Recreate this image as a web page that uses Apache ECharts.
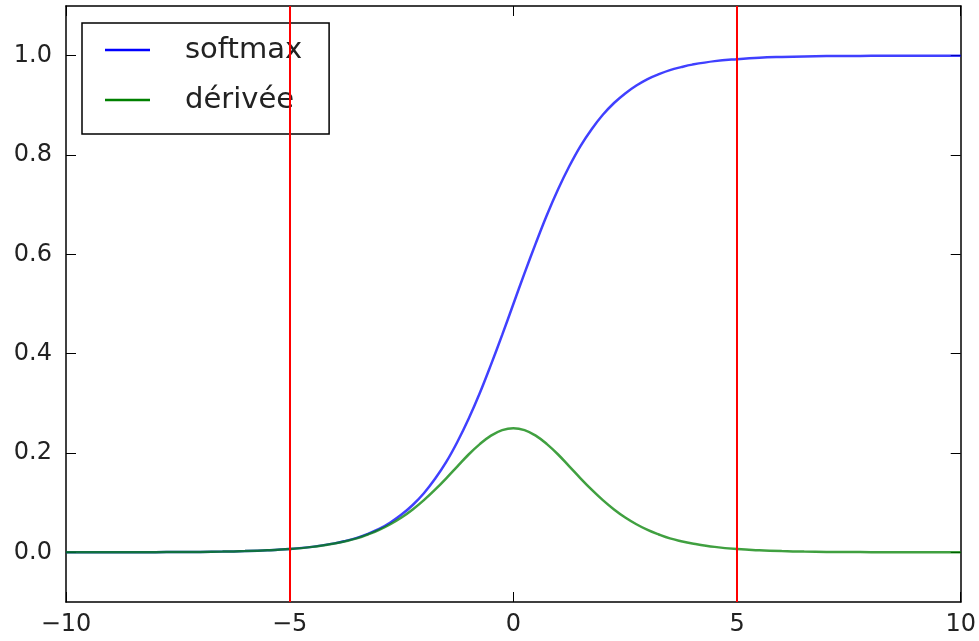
<!DOCTYPE html>
<html>
<head>
<meta charset="utf-8">
<script src="https://cdn.jsdelivr.net/npm/echarts@6/dist/echarts.min.js"></script>
<style>html,body{margin:0;padding:0;background:#fff;}#c{width:979px;height:641px;}</style>
</head>
<body>
<div id="c"></div>
<script>
const xValues = [-10,-9.5,-9,-8.5,-8,-7.5,-7,-6.5,-6,-5.5,-5,-4.5,-4,-3.75,-3.5,-3.25,-3,-2.75,-2.5,-2.25,-2,-1.75,-1.5,-1.25,-1,-0.75,-0.5,-0.25,0,0.25,0.5,0.75,1,1.25,1.5,1.75,2,2.25,2.5,2.75,3,3.25,3.5,3.75,4,4.5,5,5.5,6,6.5,7,7.5,8,8.5,9,9.5,10];
const softmaxValues = [0.0000,0.0001,0.0001,0.0002,0.0003,0.0006,0.0009,0.0015,0.0025,0.0041,0.0067,0.011,0.018,0.023,0.029,0.0373,0.047,0.0601,0.076,0.0953,0.119,0.148,0.182,0.2227,0.269,0.3208,0.378,0.4378,0.500,0.5622,0.622,0.6792,0.731,0.7773,0.818,0.852,0.881,0.9047,0.924,0.9399,0.953,0.9627,0.971,0.977,0.982,0.989,0.993,0.996,0.9975,0.9985,0.9991,0.9994,0.9997,0.9998,0.9999,0.9999,1.0000];
const deriveeValues = [0.0000,0.0001,0.0001,0.0002,0.0003,0.0006,0.0009,0.0015,0.0025,0.0041,0.0066,0.011,0.018,0.0225,0.028,0.0359,0.045,0.0565,0.070,0.0862,0.105,0.1261,0.149,0.1731,0.197,0.2179,0.235,0.2461,0.250,0.2461,0.235,0.2179,0.197,0.1731,0.149,0.1261,0.105,0.0862,0.070,0.0565,0.045,0.0359,0.028,0.0225,0.018,0.011,0.0066,0.0041,0.0025,0.0015,0.0009,0.0006,0.0003,0.0002,0.0001,0.0001,0.0000];
const redLines = [-5, 5];
const yTicks = [0, 0.2, 0.4, 0.6, 0.8, 1.0];
const seriesNames = ['softmax', 'dérivée'];

const font = 'DejaVu Sans';
const pairs = v => xValues.map((x, i) => [x, v[i]]);
const axisLine = {show: true, onZero: false, lineStyle: {color: '#000', width: 1.5}};
const tick = {show: true, inside: true, length: 10, lineStyle: {color: '#000', width: 1}};

const chart = echarts.init(document.getElementById('c'));
chart.setOption({
  animation: false,
  backgroundColor: '#fff',
  grid: {left: 66, right: 18, top: 6, bottom: 39},
  legend: {
    left: 82, top: 23, orient: 'vertical',
    data: seriesNames,
    icon: 'rect', itemWidth: 45, itemHeight: 2.5, itemGap: 16,
    padding: [10, 27, 17, 23],
    borderColor: '#000', borderWidth: 1.5, backgroundColor: '#fff',
    textStyle: {fontFamily: font, fontSize: 29, color: '#222', lineHeight: 34, padding: [0, 0, 0, 30]}
  },
  xAxis: [{
    type: 'value', min: -10, max: 10, interval: 5, position: 'bottom',
    axisLine, axisTick: tick, splitLine: {show: false},
    axisLabel: {fontFamily: font, fontSize: 24, color: '#222', margin: 11,
      formatter: v => String(v).replace('-', '\u2212')}
  }, {
    type: 'value', min: -10, max: 10, interval: 5, position: 'top',
    axisLine, axisTick: tick, splitLine: {show: false}, axisLabel: {show: false}
  }],
  yAxis: [{
    type: 'value', min: -0.1, max: 1.1, position: 'left',
    axisLine, splitLine: {show: false},
    axisTick: Object.assign({customValues: yTicks}, tick),
    axisLabel: {customValues: yTicks, fontFamily: font, fontSize: 24, color: '#222', margin: 14,
      formatter: v => v.toFixed(1)}
  }, {
    type: 'value', min: -0.1, max: 1.1, position: 'right',
    axisLine, splitLine: {show: false},
    axisTick: Object.assign({customValues: yTicks}, tick),
    axisLabel: {show: false}
  }],
  series: [{
    name: seriesNames[0], type: 'line', data: pairs(softmaxValues),
    smooth: 0.4, symbol: 'none', showSymbol: false,
    color: '#0000ff', lineStyle: {color: '#0000ff', width: 2.5, opacity: 0.75}, z: 2
  }, {
    name: seriesNames[1], type: 'line', data: pairs(deriveeValues),
    smooth: 0.4, symbol: 'none', showSymbol: false,
    color: '#008000', lineStyle: {color: '#008000', width: 2.5, opacity: 0.75}, z: 3,
    markLine: {
      silent: true, symbol: 'none', label: {show: false},
      lineStyle: {color: '#ff0000', width: 2, type: 'solid', opacity: 1},
      data: redLines.map(x => ({xAxis: x}))
    }
  }]
});
</script>
</body>
</html>
